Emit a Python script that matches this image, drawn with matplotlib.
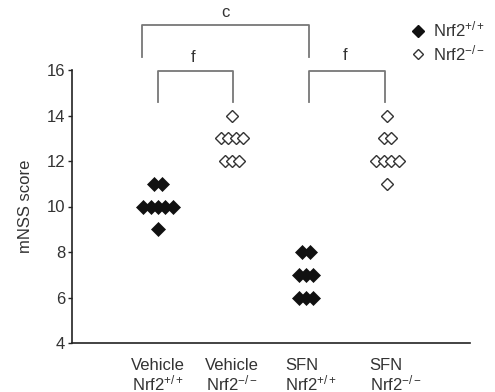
import matplotlib
matplotlib.use("Agg")
import matplotlib.pyplot as plt
from matplotlib.lines import Line2D
from collections import Counter

plt.rcParams["font.family"] = "Liberation Sans"
plt.rcParams["mathtext.fontset"] = "custom"
plt.rcParams["mathtext.rm"] = "Liberation Sans"
plt.rcParams["mathtext.it"] = "Liberation Sans"
plt.rcParams["mathtext.default"] = "regular"

# mNSS scores per animal
groups = ["Vehicle\nNrf2$^{+/+}$", "Vehicle\nNrf2$^{-/-}$", "SFN\nNrf2$^{+/+}$", "SFN\nNrf2$^{-/-}$"]
veh_wt = [11, 11, 10, 10, 10, 10, 10, 9]
veh_ko = [14, 13, 13, 13, 13, 12, 12, 12]
sfn_wt = [8, 8, 7, 7, 7, 6, 6, 6]
sfn_ko = [14, 13, 13, 12, 12, 12, 12, 11]
genotype_wt = [True, False, True, False]

group_x = [1.0, 2.0, 3.0, 4.1]
label_x = [1.0, 2.0, 3.07, 4.21]
step = 0.1
TXT = "#333333"

fig = plt.figure(figsize=(4.95, 3.92), dpi=100)
ax = fig.add_axes([72 / 495, 49 / 392, 398 / 495, 273 / 392])


def swarm(values, x0):
    xs, ys = [], []
    for v, n in sorted(Counter(values).items(), reverse=True):
        for i in range(n):
            xs.append(x0 + (i - (n - 1) / 2) * step)
            ys.append(v)
    return xs, ys


for vals, x0, wt in zip([veh_wt, veh_ko, sfn_wt, sfn_ko], group_x, genotype_wt):
    xs, ys = swarm(vals, x0)
    for x, y in zip(xs, ys):
        if wt:
            ax.plot(x, y, marker="D", ms=7, color="#111111", mec="#111111", mew=0.5, ls="none", zorder=3)
        else:
            ax.plot(x, y, marker="D", ms=6.5, mfc="white", mec="#333333", mew=1.0, ls="none", zorder=3)

ax.set_xlim(-0.162, 5.216)
ax.set_ylim(4, 16)
ax.set_yticks([4, 6, 8, 10, 12, 14, 16])
ax.set_xticks(label_x, groups)
ax.tick_params(axis="x", length=0, pad=11, labelsize=12, labelcolor=TXT)
ax.tick_params(axis="y", length=3, width=1, pad=2, labelsize=12, labelcolor=TXT, color="#222222")
for lab, ma in zip(ax.get_xticklabels(), ["center", "center", "left", "left"]):
    lab.set_multialignment(ma)
    lab.set_linespacing(1.0)
for s in ["top", "right"]:
    ax.spines[s].set_visible(False)
for s in ["left", "bottom"]:
    ax.spines[s].set_color("#222222")
    ax.spines[s].set_linewidth(1.2)
ax.set_ylabel("mNSS score", fontsize=12, color=TXT, labelpad=10)

# significance brackets
bc = "#777777"
ax.plot([0.784, 0.784, 3.04, 3.04], [16.57, 17.98, 17.98, 16.57], color=bc, lw=1.3, clip_on=False)
ax.plot([1.0, 1.0, 2.02, 2.02], [14.6, 15.96, 15.96, 14.6], color=bc, lw=1.3, clip_on=False)
ax.plot([3.04, 3.04, 4.07, 4.07], [14.6, 15.96, 15.96, 14.6], color=bc, lw=1.3, clip_on=False)
ax.text(1.905, 18.2, "c", ha="center", va="bottom", fontsize=12, color=TXT, clip_on=False)
ax.text(1.47, 16.2, "f", ha="center", va="bottom", fontsize=12, color=TXT, clip_on=False)
ax.text(3.53, 16.3, "f", ha="center", va="bottom", fontsize=12, color=TXT, clip_on=False)

handles = [
    Line2D([], [], marker="D", ls="none", color="#111111", ms=6),
    Line2D([], [], marker="D", ls="none", mfc="white", mec="#333333", mew=1.0, ms=5.5),
]
fig.legend(handles, ["Nrf2$^{+/+}$", "Nrf2$^{-/-}$"], loc="upper left",
           bbox_to_anchor=(410 / 495, 1 - 20 / 392), frameon=False, fontsize=12,
           handlelength=1.0, handletextpad=0.4, labelspacing=0.2, borderpad=0,
           borderaxespad=0, labelcolor=TXT)

fig.savefig("out.png", dpi=100)
